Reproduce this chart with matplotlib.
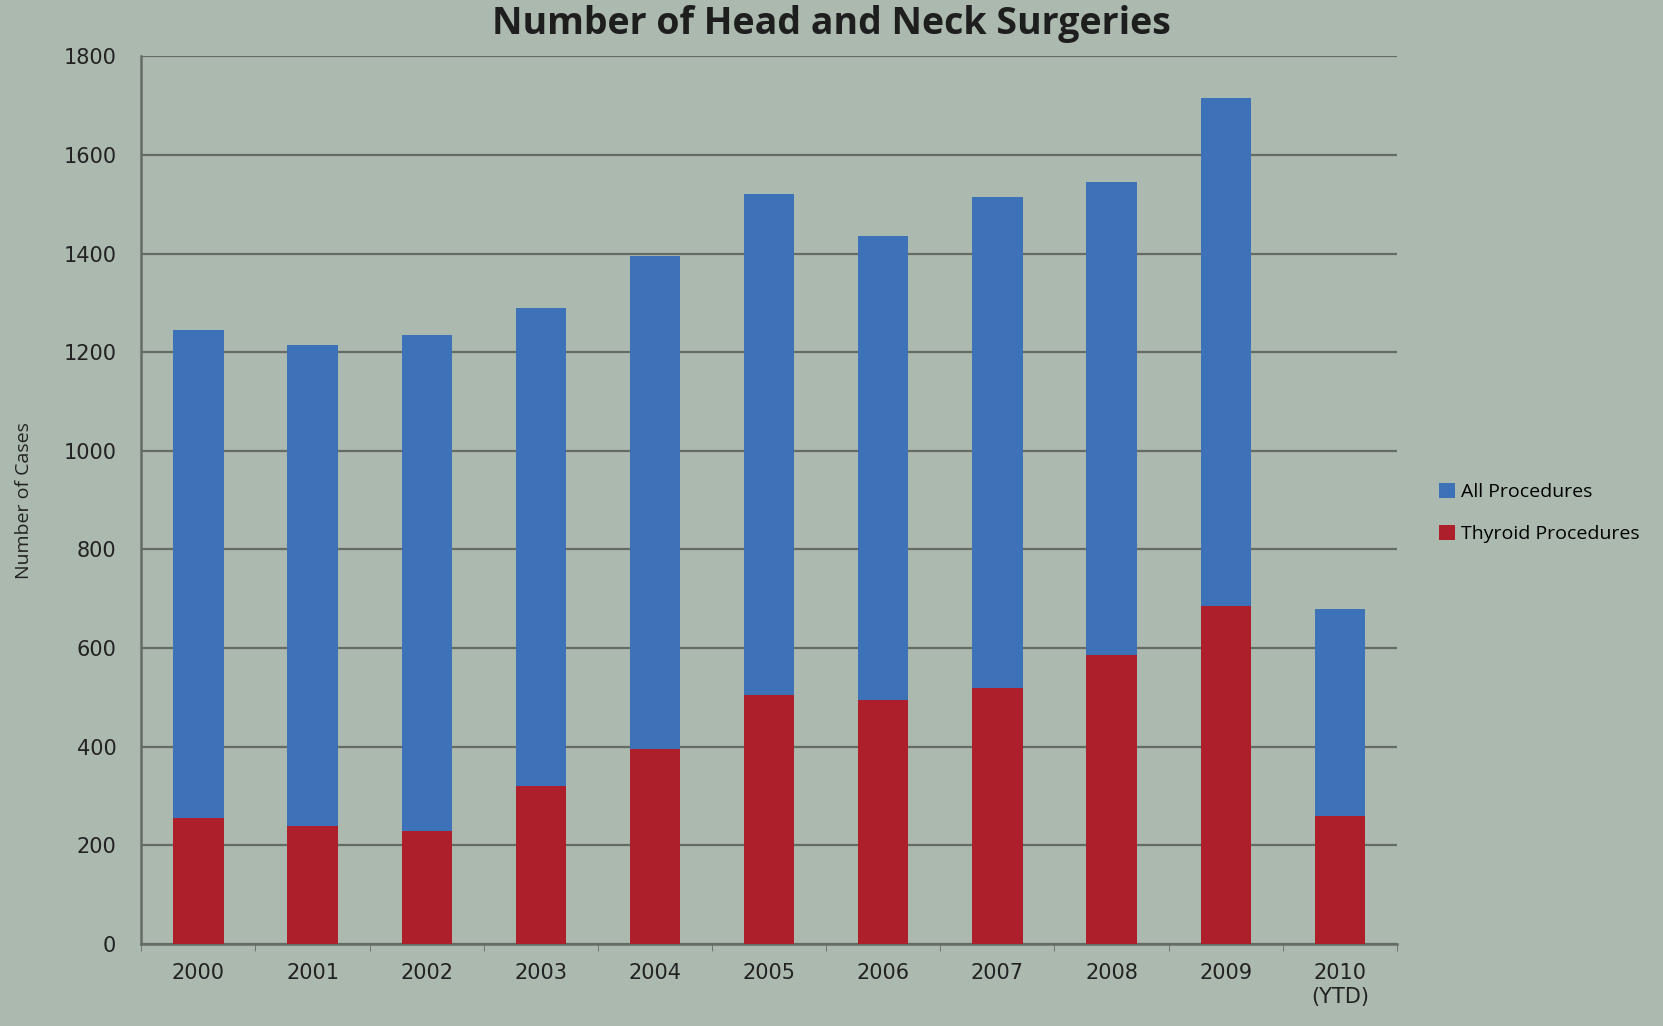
import matplotlib
matplotlib.use("Agg")
import matplotlib.pyplot as plt
import numpy as np

# values
years = ["2000", "2001", "2002", "2003", "2004", "2005",
         "2006", "2007", "2008", "2009", "2010\n(YTD)"]
all_procedures = [1245, 1215, 1235, 1290, 1395, 1520, 1435, 1515, 1545, 1715, 680]
thyroid_procedures = [256, 240, 230, 320, 395, 505, 495, 520, 585, 685, 260]
y_ticks = [0, 200, 400, 600, 800, 1000, 1200, 1400, 1600, 1800]

bg = "#abb9ae"
blue = "#3d72b8"
red = "#ae1f2c"
grid_col = "#676b67"

fig = plt.figure(figsize=(16.63, 10.26), dpi=100, facecolor=bg)
ax = fig.add_axes([0.085, 0.08, 0.755, 0.865], facecolor=bg)

x = np.arange(len(years))
w = 0.44
ax.bar(x, all_procedures, width=w, color=blue, label="All Procedures", zorder=3)
ax.bar(x, thyroid_procedures, width=w, color=red, label="Thyroid Procedures", zorder=4)

ax.set_xlim(-0.5, len(years) - 0.5)
ax.set_ylim(0, 1800)
ax.set_yticks(y_ticks)
ax.yaxis.grid(True, color=grid_col, linewidth=1.6, zorder=0)
ax.set_axisbelow(True)

ax.set_xticks(x)
ax.set_xticklabels(years, fontsize=15, family="DejaVu Sans", color="#222222")
ax.set_xticks(np.arange(-0.5, len(years), 1), minor=True)
ax.tick_params(axis="x", which="major", length=0, pad=14)
ax.tick_params(axis="x", which="minor", length=5, color=grid_col, direction="out")
ax.tick_params(axis="y", length=0, labelsize=15, pad=18, labelcolor="#222222")

for s in ["top", "right"]:
    ax.spines[s].set_visible(False)
ax.spines["left"].set_color(grid_col)
ax.spines["bottom"].set_color(grid_col)
ax.spines["left"].set_linewidth(1.8)
ax.spines["bottom"].set_linewidth(1.8)

ax.set_ylabel("Number of Cases", fontsize=14, family="Open Sans", color="#222222", labelpad=22)

fig.text(0.5, 0.995, "Number of Head and Neck Surgeries", ha="center", va="top",
         fontsize=27, fontweight="bold", family="Open Sans", color="#1e1e1e")

handles, labels = ax.get_legend_handles_labels()
fig.legend(handles, labels, loc="center left", bbox_to_anchor=(0.855, 0.5),
           frameon=False, handlelength=0.8, handleheight=0.8,
           handletextpad=0.3, labelspacing=1.2, prop={"family": "Open Sans", "size": 14})

fig.savefig("out.png", dpi=100, facecolor=bg)
